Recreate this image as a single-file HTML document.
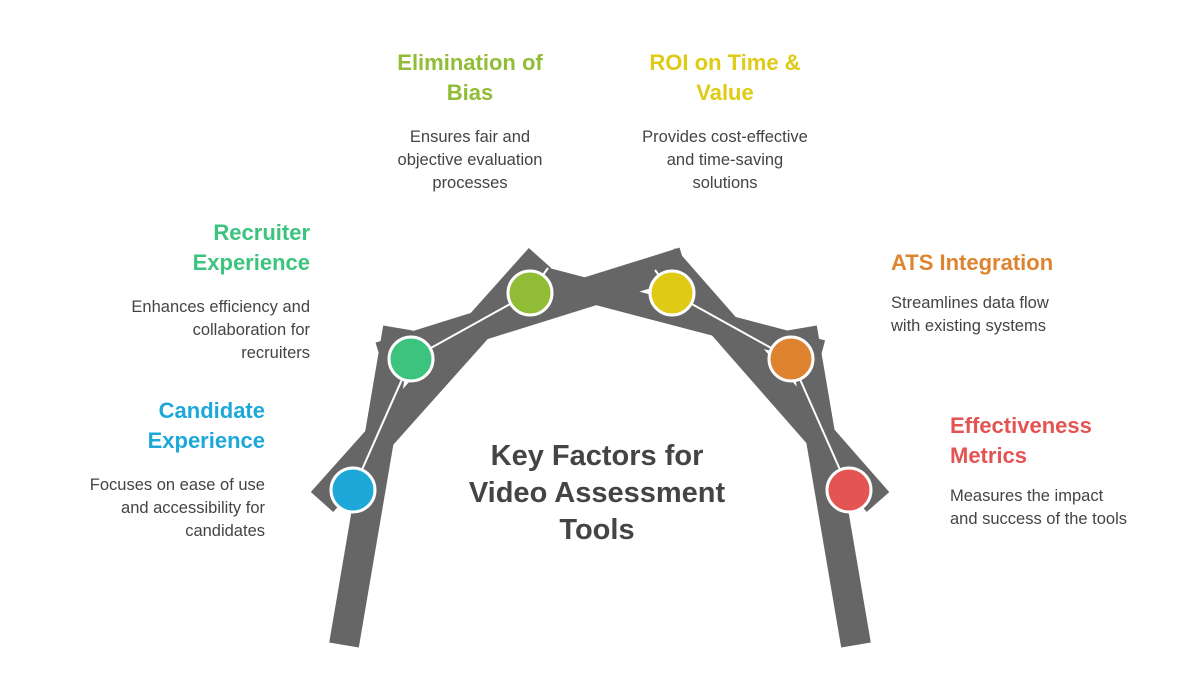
<!DOCTYPE html>
<html><head><meta charset="utf-8"><style>
body{margin:0;background:#fff;width:1200px;height:696px;overflow:hidden;position:relative;font-family:"Liberation Sans",sans-serif}
.t{position:absolute;font-weight:bold;font-size:22px;line-height:30px}
.d{position:absolute;font-size:16.5px;line-height:23px;color:#444}
.r{text-align:right}.c{text-align:center}
</style></head><body>
<svg width="1200" height="696" style="position:absolute;left:0;top:0">
<g stroke="#666" stroke-linecap="butt" fill="none">
<line x1="344" y1="645" x2="398" y2="328" stroke-width="30"/>
<line x1="856" y1="645" x2="802" y2="328" stroke-width="30"/>
<line x1="540" y1="278" x2="822" y2="352" stroke-width="24"/>
<line x1="322" y1="502" x2="540" y2="258" stroke-width="30"/>
<line x1="380" y1="357" x2="684" y2="262" stroke-width="30"/>
<line x1="878" y1="502" x2="664" y2="258" stroke-width="30"/>
</g>
<g stroke="#fff" stroke-width="2">
<line x1="353" y1="490" x2="411" y2="359"/>
<line x1="411" y1="359" x2="530" y2="293"/>
<line x1="672" y1="293" x2="791" y2="359"/>
<line x1="791" y1="359" x2="849" y2="490"/>
<line x1="530" y1="293" x2="548" y2="268"/>
<line x1="672" y1="293" x2="655" y2="270"/>
</g>
<g stroke="#fff" stroke-width="3">
<circle cx="353" cy="490" r="22" fill="#1ea8da"/>
<circle cx="411" cy="359" r="22" fill="#3cc47f"/>
<circle cx="530" cy="293" r="22" fill="#90bc36"/>
<circle cx="672" cy="293" r="22" fill="#dfcb15"/>
<circle cx="791" cy="359" r="22" fill="#de832f"/>
<circle cx="849" cy="490" r="22" fill="#e35453"/>
</g>
</svg>
<div class="t c" style="left:330px;top:48px;width:280px;color:#90bc36">Elimination of<br>Bias</div>
<div class="d c" style="left:340px;top:126px;width:260px">Ensures fair and<br>objective evaluation<br>processes</div>
<div class="t c" style="left:590px;top:48px;width:270px;color:#dfcb15">ROI on Time &amp;<br>Value</div>
<div class="d c" style="left:590px;top:126px;width:270px">Provides cost-effective<br>and time-saving<br>solutions</div>
<div class="t r" style="left:60px;top:218px;width:250px;color:#3cc47f">Recruiter<br>Experience</div>
<div class="d r" style="left:60px;top:296px;width:250px">Enhances efficiency and<br>collaboration for<br>recruiters</div>
<div class="t r" style="left:20px;top:396px;width:245px;color:#1ea8da">Candidate<br>Experience</div>
<div class="d r" style="left:20px;top:474px;width:245px">Focuses on ease of use<br>and accessibility for<br>candidates</div>
<div class="t" style="left:891px;top:248px;width:280px;color:#de832f">ATS Integration</div>
<div class="d" style="left:891px;top:292px;width:280px">Streamlines data flow<br>with existing systems</div>
<div class="t" style="left:950px;top:411px;width:240px;color:#e35453">Effectiveness<br>Metrics</div>
<div class="d" style="left:950px;top:485px;width:240px">Measures the impact<br>and success of the tools</div>
<div class="c" style="position:absolute;left:437px;top:438px;width:320px;font-weight:bold;font-size:29px;line-height:37px;color:#444">Key Factors for<br>Video Assessment<br>Tools</div>
</body></html>
